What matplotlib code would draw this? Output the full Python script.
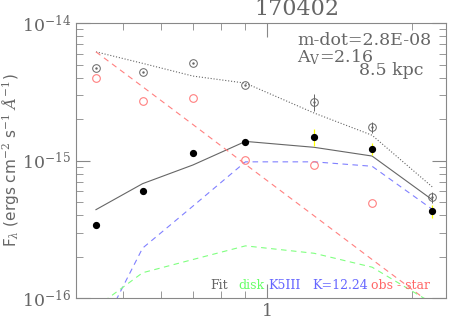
import numpy as np
import matplotlib
matplotlib.use('Agg')
import matplotlib.pyplot as plt
from matplotlib.ticker import FixedLocator, NullFormatter, LogLocator

plt.rcParams['font.family'] = ['DejaVu Serif']
plt.rcParams['mathtext.fontset'] = 'dejavuserif'

# wavelengths (micron) of the photometric bands
wave = [0.44, 0.55, 0.70, 0.90, 1.25, 1.65, 2.2]

# observed (reddened) fluxes and errors
obs = [4.7e-15, 4.4e-15, 5.1e-15, 3.54e-15, 2.68e-15, 1.75e-15, 5.4e-16]
obs_err = [0, 0, 0, 0, 0.37e-15, 0.15e-15, 0.05e-15]
# dereddened fluxes and errors
dered = [3.4e-16, 6.0e-16, 1.14e-15, 1.37e-15, 1.49e-15, 1.22e-15, 4.3e-16]
dered_err = [0, 0, 0, 0, 0.21e-15, 0.12e-15, 0.045e-15]
# observed minus star
obs_star = [3.98e-15, 2.72e-15, 2.86e-15, 1.01e-15, 9.3e-16, 4.93e-16]

# model curves
fit_total = [4.4e-16, 6.8e-16, 9.3e-16, 1.38e-15, 1.25e-15, 1.08e-15, 5.2e-16]
fit_red = [6.18e-15, 5.1e-15, 4.12e-15, 3.66e-15, 2.22e-15, 1.53e-15, 6.45e-16]
disk = [8.6e-17, 1.53e-16, 1.91e-16, 2.4e-16, 2.12e-16, 1.68e-16, 9.2e-17]
star = [5e-17, 2.31e-16, 4.67e-16, 9.8e-16, 9.8e-16, 9.1e-16, 4.43e-16]
powerlaw = [6.18e-15, 3.45e-15, 1.83e-15, 9.4e-16, 3.97e-16, 1.91e-16, 9.0e-17]

grey = '#666666'
fig = plt.figure(figsize=(4.5, 3.35), dpi=100)
ax = fig.add_axes([0.169, 0.110, 0.822, 0.821])
ax.set_xscale('log')
ax.set_yscale('log')
ax.set_xlim(0.4, 2.35)
ax.set_ylim(1e-16, 1e-14)

ax.plot(wave, fit_red, ls=':', color='#666666', lw=0.8)
ax.plot(wave, fit_total, ls='-', color='#666666', lw=0.8)
ax.plot(wave, powerlaw, ls=(0, (5, 4)), color='#ff8080', lw=0.8)
ax.plot(wave, star, ls=(0, (5, 4)), color='#8080ff', lw=0.8)
ax.plot(wave, disk, ls=(0, (5, 4)), color='#80ff80', lw=0.8)

ax.errorbar(wave, obs, yerr=obs_err, fmt='none', ecolor='#666666', elinewidth=0.7)
ax.plot(wave, obs, 'o', mfc='none', mec='#666666', ms=5.5, mew=0.7)
ax.plot(wave, obs, '.', color='#666666', ms=1.5)
ax.errorbar(wave, dered, yerr=dered_err, fmt='none', ecolor='#ffff00', elinewidth=0.9)
ax.plot(wave, dered, 'o', color='black', ms=4.2)
ax.plot(wave[:len(obs_star)], obs_star, 'o', mfc='none', mec='#ff8080', ms=5.5, mew=0.8)

for s in ax.spines.values():
    s.set_color('#888888')
ax.tick_params(which='both', direction='in', top=True, right=True,
               colors='#888888', labelcolor=grey, labelsize=12.5)
ax.tick_params(which='major', length=10)
ax.tick_params(which='minor', length=5)
ax.xaxis.set_major_locator(FixedLocator([1]))
ax.xaxis.set_minor_locator(FixedLocator([0.5, 0.6, 0.7, 0.8, 0.9, 2]))
ax.xaxis.set_minor_formatter(NullFormatter())
ax.set_xticklabels(['1'])
ax.yaxis.set_major_locator(LogLocator(base=10))
ax.yaxis.set_minor_locator(LogLocator(base=10, subs=np.arange(2, 10)))
ax.yaxis.set_minor_formatter(NullFormatter())

ax.set_ylabel(r'F$_\lambda$ (ergs cm$^{-2}$ s$^{-1}$ $\AA^{-1}$)', color=grey,
              fontsize=11, family='DejaVu Sans')
ax.yaxis.set_label_coords(-0.148, 0.5)
ax.set_xlabel(r'$\lambda$ ($\mu$m)', color=grey, fontsize=12, labelpad=10)

fig.text(0.66, 0.972, '170402', color=grey, fontsize=16, ha='center', va='center')
ax.text(0.962, 0.938, 'm-dot=2.8E-08', transform=ax.transAxes, color=grey,
        fontsize=12.5, ha='right', va='center')
ax.text(0.597, 0.876, r'A$_\mathrm{V}$=2.16', transform=ax.transAxes, color=grey,
        fontsize=12.5, ha='left', va='center')
ax.text(0.938, 0.829, '8.5 kpc', transform=ax.transAxes, color=grey,
        fontsize=12.5, ha='right', va='center')

labels = [('Fit', grey, 0.362), ('disk', '#66ff66', 0.438), ('K5III', '#6666ff', 0.519),
          ('K=12.24', '#6666ff', 0.638), ('obs - star', '#ff6666', 0.797)]
for txt, col, xp in labels:
    ax.text(xp, 0.045, txt, transform=ax.transAxes, color=col, fontsize=9,
            ha='left', va='center')

fig.savefig('out.png', dpi=100)
